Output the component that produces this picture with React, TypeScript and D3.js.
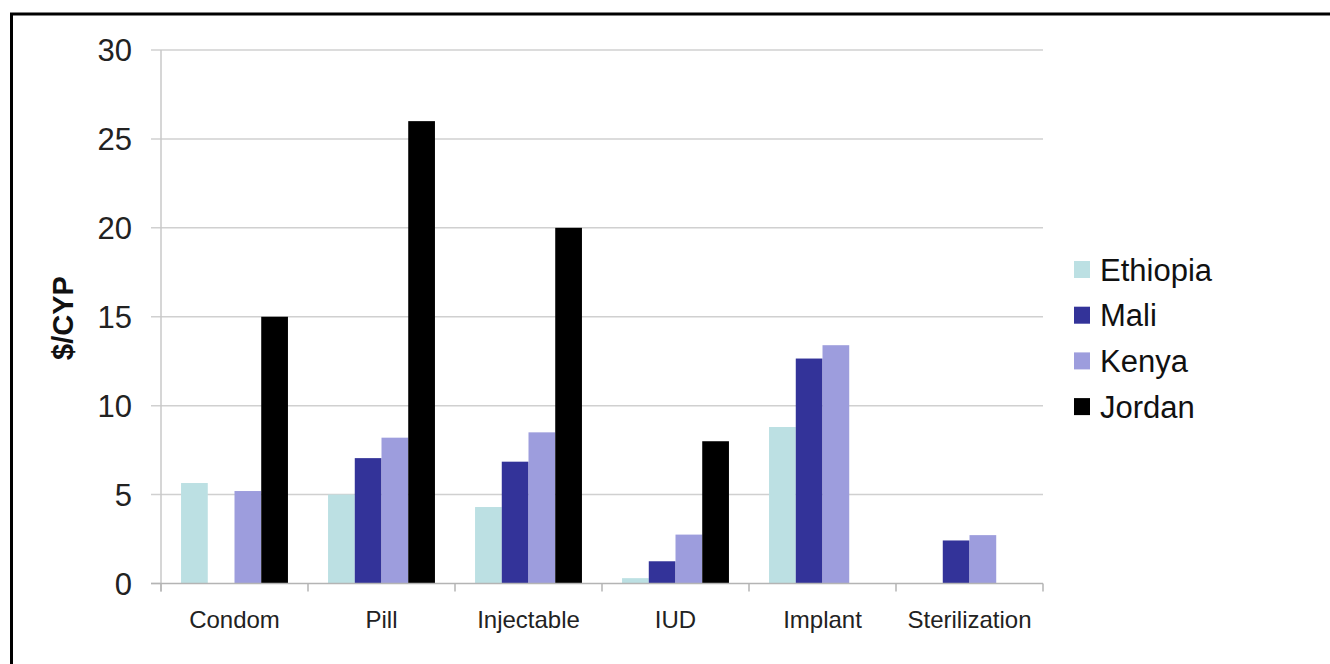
import React from "react";
import * as d3 from "d3";

const categories = ["Condom", "Pill", "Injectable", "IUD", "Implant", "Sterilization"];
const seriesNames = ["Ethiopia", "Mali", "Kenya", "Jordan"];
const ethiopia = [5.65, 5.0, 4.3, 0.3, 8.8, null];
const mali = [null, 7.05, 6.85, 1.25, 12.65, 2.42];
const kenya = [5.2, 8.2, 8.5, 2.75, 13.4, 2.72];
const jordan = [15, 26, 20, 8, null, null];
const seriesValues = [ethiopia, mali, kenya, jordan];
const yTicks = [0, 5, 10, 15, 20, 25, 30];
const colors = ["#BCE0E3", "#333399", "#9D9DDD", "#000000"];

const W = 1330;
const H = 664;
const plot = { left: 161, right: 1043, top: 50, bottom: 583.5 };

export default function App() {
  const x0 = d3.scaleBand<string>().domain(categories).range([plot.left, plot.right]).paddingInner(0).paddingOuter(0);
  const bw = x0.bandwidth();
  const barW = bw / 5.5;
  const x1 = d3
    .scaleBand<string>()
    .domain(seriesNames)
    .range([(bw - barW * 4) / 2, (bw + barW * 4) / 2])
    .padding(0);
  const y = d3.scaleLinear().domain([0, 30]).range([plot.bottom, plot.top]);
  const font = "'Liberation Sans', Arial, sans-serif";
  const boundaries = categories.map((c) => x0(c) as number).concat([plot.right]);

  return (
    <div style={{ position: "absolute", left: 0, top: 0 }}>
      <svg width={W} height={H} style={{ display: "block" }}>
        <rect x={0} y={0} width={W} height={H} fill="#fff" />
        <rect x={11.5} y={14} width={W + 50} height={H + 50} fill="none" stroke="#000" strokeWidth={3} />
        {yTicks.map((t) => (
          <g key={t}>
            <line x1={151} x2={t === 0 ? plot.left : plot.right} y1={y(t)} y2={y(t)} stroke="#D0D0D0" strokeWidth={1.5} />
            <text x={132} y={y(t)} dy="0.36em" textAnchor="end" fontFamily={font} fontSize={31} fill="#222">
              {t}
            </text>
          </g>
        ))}
        <line x1={plot.left} x2={plot.left} y1={plot.top} y2={plot.bottom + 8} stroke="#C8C8C8" strokeWidth={1.5} />
        {seriesValues.map((vals, si) =>
          vals.map((v, ci) =>
            v == null ? null : (
              <rect
                key={`${si}-${ci}`}
                x={(x0(categories[ci]) as number) + (x1(seriesNames[si]) as number)}
                y={y(v)}
                width={barW}
                height={y(0) - y(v)}
                fill={colors[si]}
              />
            )
          )
        )}
        <line x1={151} x2={plot.right} y1={y(0)} y2={y(0)} stroke="#B4B4B4" strokeWidth={1.5} />
        {boundaries.map((b, i) => (
          <line key={i} x1={b} x2={b} y1={y(0)} y2={y(0) + 8} stroke="#B4B4B4" strokeWidth={1.5} />
        ))}
        {categories.map((c) => (
          <text
            key={c}
            x={(x0(c) as number) + bw / 2}
            y={628}
            textAnchor="middle"
            fontFamily={font}
            fontSize={24}
            fill="#222"
          >
            {c}
          </text>
        ))}
        <text
          transform={`translate(73,318) rotate(-90)`}
          textAnchor="middle"
          fontFamily={font}
          fontSize={29}
          fontWeight="bold"
          fill="#111"
        >
          $/CYP
        </text>
        {seriesNames.map((s, i) => (
          <g key={s} transform={`translate(1074,${269.5 + i * 45.7})`}>
            <rect x={0} y={-8.5} width={16} height={17} fill={colors[i]} />
            <text x={26} y={0} dy="0.36em" fontFamily={font} fontSize={31} fill="#111">
              {s}
            </text>
          </g>
        ))}
      </svg>
    </div>
  );
}
